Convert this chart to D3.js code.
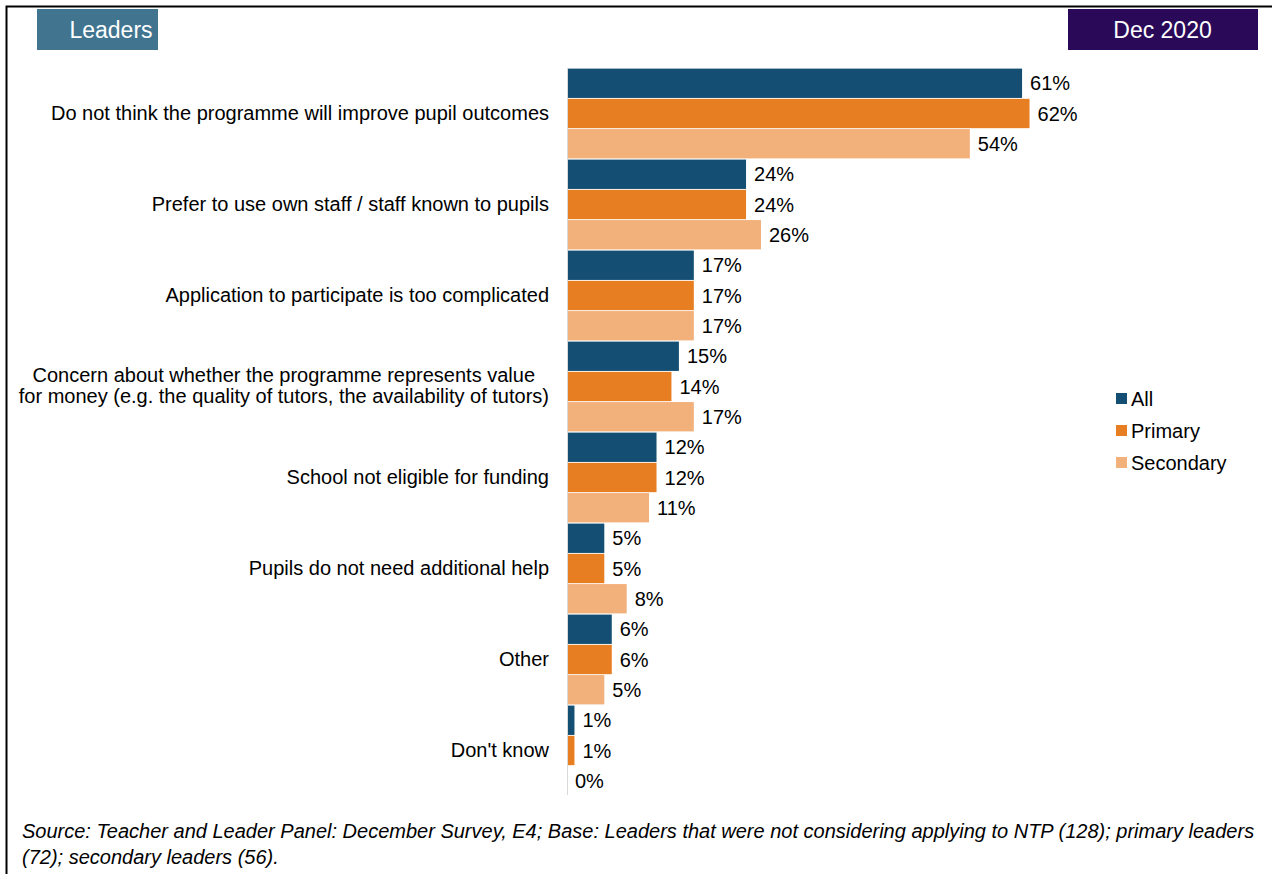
<!DOCTYPE html>
<html><head><meta charset="utf-8">
<script src="https://cdn.jsdelivr.net/npm/d3@7"></script>
<style>body{margin:0;background:#fff}svg{display:block;font-family:"Liberation Sans",Arial,sans-serif}</style>
</head><body>
<svg id="c" width="1272" height="874"></svg>
<script>
const categories = [
  ["Do not think the programme will improve pupil outcomes"],
  ["Prefer to use own staff / staff known to pupils"],
  ["Application to participate is too complicated"],
  ["Concern about whether the programme represents value","for money (e.g. the quality of tutors, the availability of tutors)"],
  ["School not eligible for funding"],
  ["Pupils do not need additional help"],
  ["Other"],
  ["Don't know"]
];
const seriesNames = ["All","Primary","Secondary"];
const allValues = [61,24,17,15,12,5,6,1];
const primaryValues = [62,24,17,14,12,5,6,1];
const secondaryValues = [54,26,17,17,11,8,5,0];
const seriesColors = ["#144f73","#e87e22","#f2b07b"];
const values = [allValues, primaryValues, secondaryValues];
const FS = 20;

const svg = d3.select("#c");
// frame
svg.append("path").attr("d","M6.5,874 V6.5 H1272").attr("fill","none").attr("stroke","#000").attr("stroke-width",2);

// header boxes
svg.append("rect").attr("x",37).attr("y",9).attr("width",121).attr("height",41).attr("fill","#41748f");
svg.append("text").attr("x",111).attr("y",38).attr("text-anchor","middle").attr("fill","#fff").attr("font-size",23).text("Leaders");
svg.append("rect").attr("x",1068).attr("y",9).attr("width",190).attr("height",41).attr("fill","#2a0a58");
svg.append("text").attr("x",1162.5).attr("y",38).attr("text-anchor","middle").attr("fill","#fff").attr("font-size",23).text("Dec 2020");

const x = d3.scaleLinear().domain([0,100]).range([567,567+746]);
const y = d3.scaleBand().domain(d3.range(categories.length)).range([68,796]).paddingInner(0).paddingOuter(0);
const ys = d3.scaleBand().domain(d3.range(seriesNames.length)).range([0,y.bandwidth()]).paddingInner(0.03).paddingOuter(0.02);

categories.forEach((cat,i)=>{
  const g = svg.append("g").attr("transform",`translate(0,${y(i)})`);
  seriesNames.forEach((s,j)=>{
    const v = values[j][i];
    g.append("rect").attr("x",x(0)).attr("y",ys(j)).attr("width",x(v)-x(0)).attr("height",ys.bandwidth()).attr("fill",seriesColors[j]);
    g.append("text").attr("x",x(v)+8).attr("y",ys(j)+ys.bandwidth()/2).attr("dy","0.36em").attr("font-size",FS).attr("fill","#000").text(v+"%");
  });
  const t = svg.append("text").attr("text-anchor","end").attr("font-size",FS).attr("fill","#000");
  const cy = y(i)+y.bandwidth()/2;
  const n = cat.length;
  cat.forEach((line,k)=>{
    t.append("tspan").attr("x", n>1 && k==0 ? 535 : 549).attr("y", cy + (k-(n-1)/2)*21 - 1).attr("dy","0.36em").text(line);
  });
});

// axis line
svg.append("line").attr("x1",567.5).attr("x2",567.5).attr("y1",68).attr("y2",795).attr("stroke","#d9d9d9").attr("stroke-width",1);

// legend
seriesNames.forEach((s,j)=>{
  const ly = 399 + j*32;
  svg.append("rect").attr("x",1116).attr("y",ly-6).attr("width",11).attr("height",11).attr("fill",seriesColors[j]);
  svg.append("text").attr("x",1131).attr("y",ly).attr("dy","0.36em").attr("font-size",FS).attr("fill","#000").text(s);
});

// source
const src = svg.append("text").attr("font-size",FS).attr("font-style","italic").attr("fill","#000");
src.append("tspan").attr("x",22).attr("y",838).text("Source: Teacher and Leader Panel: December Survey, E4; Base: Leaders that were not considering applying to NTP (128); primary leaders");
src.append("tspan").attr("x",22).attr("y",864).text("(72); secondary leaders (56).");
</script>
</body></html>
